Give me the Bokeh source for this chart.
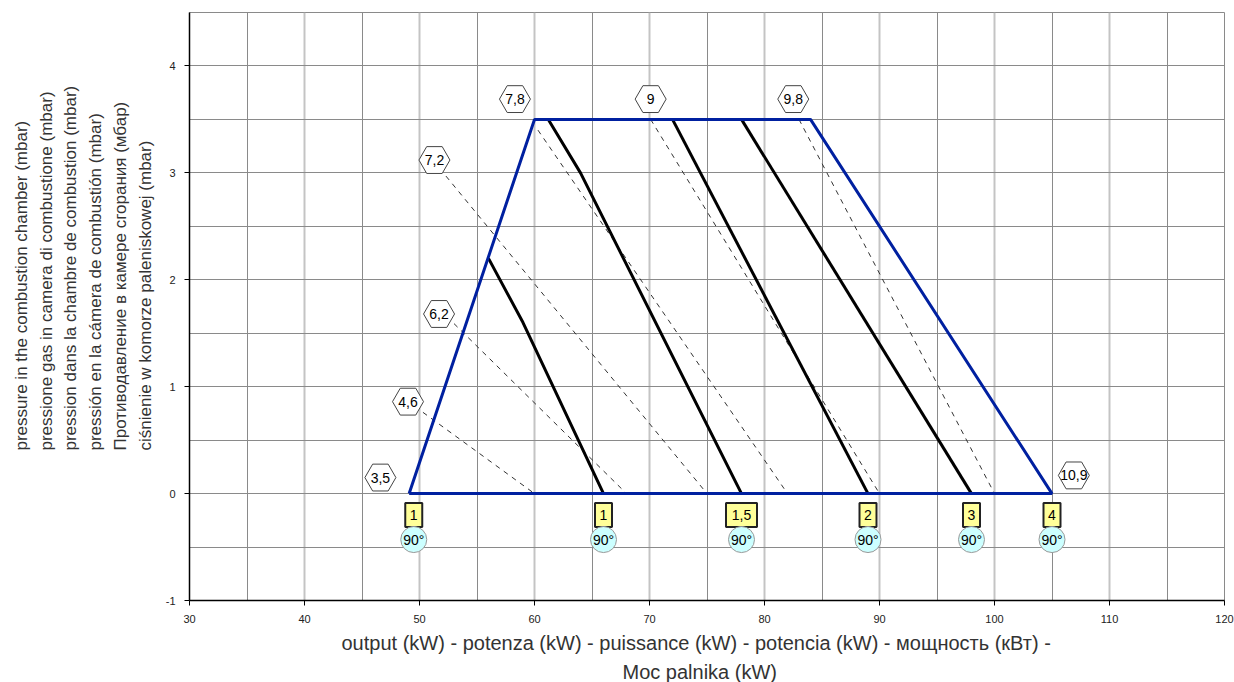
from bokeh.plotting import figure
from bokeh.models import Range1d, SingleIntervalTicker, Title, ColumnDataSource, PrintfTickFormatter
from bokeh.core.properties import value
from bokeh.embed import file_html
from bokeh.resources import INLINE

FONT = "Liberation Sans"

# Working field of the burner (output kW vs. chamber pressure mbar)
field_x = [49.1, 60.0, 84.0, 105.0, 49.1]
field_y = [0.0, 3.5, 3.5, 0.0, 0.0]

# Air-damper settings (solid black curves)
damper_x = [[56.0, 59.0, 66.0], [61.2, 64.0, 78.0], [72.0, 89.0], [78.0, 98.0]]
damper_y = [[2.2, 1.6, 0.0], [3.5, 3.0, 0.0], [3.5, 0.0], [3.5, 0.0]]

# Gas-pressure reference lines (dashed)
gas_x = [[50.3, 60.0], [53.0, 68.0], [52.3, 75.0], [60.3, 82.0], [70.1, 90.0], [83.0, 100.0]]
gas_y = [[0.76, 0.0], [1.59, 0.0], [2.97, 0.0], [3.4, 0.0], [3.5, 0.0], [3.5, 0.0]]

# Hexagon tags: gas pressure values
hex_x = [46.6, 49.0, 51.7, 51.3, 58.3, 70.1, 82.5, 106.9]
hex_y = [0.15, 0.86, 1.68, 3.12, 3.69, 3.69, 3.69, 0.17]
hex_text = ["3,5", "4,6", "6,2", "7,2", "7,8", "9", "9,8", "10,9"]

# Damper position tags under the base line
tag_x = [49.5, 66.0, 78.0, 89.0, 98.0, 105.0]
tag_text = ["1", "1", "1,5", "2", "3", "4"]
angle_text = ["90°", "90°", "90°", "90°", "90°", "90°"]
tag_y = -0.2
angle_y = -0.43

y_title = [
    "pressure in the combustion chamber (mbar)",
    "pressione gas in camera di combustione (mbar)",
    "pression dans la chambre de combustion (mbar)",
    "pressión en la cámera de combustión (mbar)",
    "Противодавление в камере сгорания (мбар)",
    "ciśnienie w komorze paleniskowej (mbar)",
]
x_title = [
    "output (kW) - potenza (kW) - puissance (kW) - potencia (kW) - мощность (кВт) -",
    "Moc palnika  (kW)",
]

p = figure(width=1234, height=682, output_backend="svg", toolbar_location=None,
           x_range=Range1d(30, 120), y_range=Range1d(-1, 4.5),
           min_border_left=189, min_border_right=10, min_border_top=12,
           min_border_bottom=82)
p.outline_line_color = "#8a8a8a"
p.outline_line_width = 1
p.background_fill_color = "white"

xt = SingleIntervalTicker(interval=10, num_minor_ticks=2)
yt = SingleIntervalTicker(interval=1, num_minor_ticks=2)
p.xaxis.ticker = xt
p.yaxis.ticker = yt
p.xgrid.ticker = xt
p.ygrid.ticker = yt
p.xaxis.formatter = PrintfTickFormatter(format="%d")
p.yaxis.formatter = PrintfTickFormatter(format="%d")

p.xgrid.grid_line_color = "#c4c4c4"
p.xgrid.grid_line_width = 2
p.xgrid.minor_grid_line_color = "#8a8a8a"
p.xgrid.minor_grid_line_width = 1
p.ygrid.grid_line_color = "#8a8a8a"
p.ygrid.grid_line_width = 1
p.ygrid.minor_grid_line_color = "#8a8a8a"
p.ygrid.minor_grid_line_width = 1

for ax in (p.xaxis, p.yaxis):
    ax.axis_line_color = "black"
    ax.axis_line_width = 1.5
    ax.major_tick_line_color = "black"
    ax.major_tick_out = 5
    ax.major_tick_in = 0
    ax.minor_tick_line_color = None
    ax.major_label_standoff = 9
    ax.major_label_text_font = FONT
    ax.major_label_text_font_size = "11px"
    ax.major_label_text_color = "#222222"

# dashed gas lines
p.multi_line(gas_x, gas_y, line_color="#333333", line_width=1, line_dash="5 5")

# damper curves
p.multi_line(damper_x, damper_y, line_color="black", line_width=3)

# working field
p.line(field_x, field_y, line_color="#0020a0", line_width=3)

# hexagon tags
hsrc = ColumnDataSource(dict(x=hex_x, y=hex_y, t=hex_text))
p.scatter("x", "y", source=hsrc, marker="hex", size=31, fill_color="white",
          line_color="#444444", line_width=1)
p.text("x", "y", text="t", source=hsrc, text_align="center", text_baseline="middle",
       text_font=value(FONT), text_font_size="14px", text_color="black")

# damper position boxes and angle circles
box_w = [10 + 7 * len(t) for t in tag_text]
tsrc = ColumnDataSource(dict(x=tag_x, y=[tag_y] * len(tag_x), w=box_w, t=tag_text))
p.rect("x", "y", width="w", height=24, width_units="screen", height_units="screen",
       source=tsrc, fill_color="#ffff99", line_color="#222222", line_width=2)
p.text("x", "y", text="t", source=tsrc, text_align="center", text_baseline="middle",
       text_font=value(FONT), text_font_size="14px", text_color="black")

asrc = ColumnDataSource(dict(x=tag_x, y=[angle_y] * len(tag_x), t=angle_text))
p.scatter("x", "y", source=asrc, marker="circle", size=26, fill_color="#ccffff",
          line_color="#999999", line_width=1)
p.text("x", "y", text="t", source=asrc, text_align="center", text_baseline="middle",
       text_font=value(FONT), text_font_size="14px", text_color="black")

# axis titles
p.add_layout(Title(text="\n".join(y_title), align="left", offset=150, standoff=16,
                   text_font=FONT, text_font_size="17px", text_font_style="normal",
                   text_line_height=1.3, text_color="#333333"), "left")
p.add_layout(Title(text=x_title[0], align="left", offset=152, standoff=9,
                   text_font=FONT, text_font_size="20px", text_font_style="normal",
                   text_color="#333333"), "below")
p.add_layout(Title(text=x_title[1], align="left", offset=433, standoff=0,
                   text_font=FONT, text_font_size="20px", text_font_style="normal",
                   text_color="#333333"), "below")

open("out.html", "w").write(file_html(p, INLINE))
